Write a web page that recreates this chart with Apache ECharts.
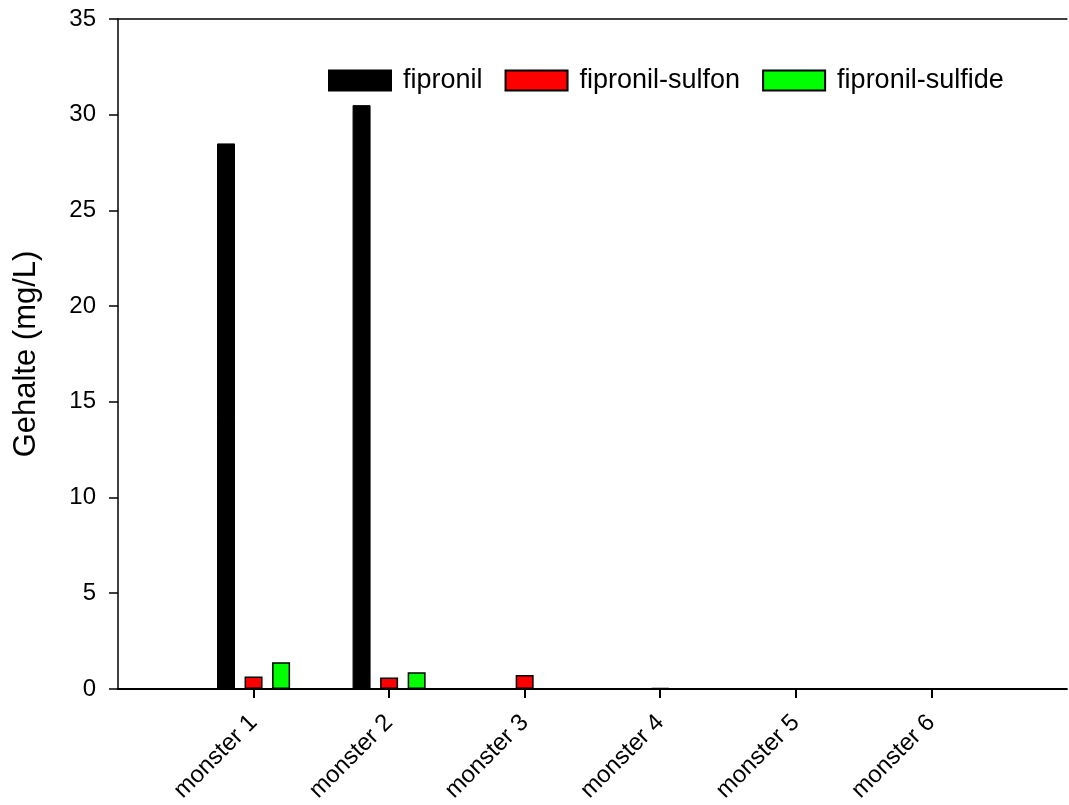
<!DOCTYPE html>
<html>
<head>
<meta charset="utf-8">
<script src="https://cdn.jsdelivr.net/npm/echarts@6/dist/echarts.min.js"></script>
<style>
html,body{margin:0;padding:0;background:#fff;}
#chart{width:1069px;height:805px;}
</style>
</head>
<body>
<div id="chart"></div>
<script>
const categories = ['monster 1', 'monster 2', 'monster 3', 'monster 4', 'monster 5', 'monster 6'];
const fipronil = [28.5, 30.5, null, null, null, null];
const fipronilSulfon = [0.65, 0.6, 0.73, 0.04, null, null];
const fipronilSulfide = [1.4, 0.87, null, null, null, null];
const yTicks = [0, 5, 10, 15, 20, 25, 30, 35];

const FONT = 'Liberation Sans, Arial, sans-serif';
// pad one empty slot on each side so the axis extends past the first/last sample
const xCats = [''].concat(categories, ['']);
const pad = arr => [null].concat(arr, [null]);

const chart = echarts.init(document.getElementById('chart'));
chart.setOption({
  backgroundColor: '#fff',
  animation: false,
  textStyle: { fontFamily: FONT },
  grid: { left: 118, top: 19, bottom: 116, right: -10, containLabel: false },
  legend: {
    left: 323, top: 62,
    itemWidth: 62, itemHeight: 20, itemGap: 22,
    icon: 'rect',
    textStyle: { fontSize: 27, color: '#000', fontFamily: FONT, padding: [0, 0, 0, 7] },
    data: ['fipronil', 'fipronil-sulfon', 'fipronil-sulfide']
  },
  xAxis: [{
    type: 'category', data: xCats, boundaryGap: false, position: 'bottom',
    axisLine: { lineStyle: { color: '#000', width: 2 } },
    axisTick: { show: true, length: 9, inside: false, lineStyle: { color: '#000', width: 2 },
      interval: (i, v) => v !== '' },
    axisLabel: { rotate: 45, fontSize: 24, color: '#000', margin: 30, fontFamily: FONT, interval: 0 },
    splitLine: { show: false }
  }, {
    type: 'category', data: xCats, boundaryGap: false, position: 'top',
    axisLine: { lineStyle: { color: '#000', width: 1.5 } },
    axisTick: { show: false }, axisLabel: { show: false }, splitLine: { show: false }
  }],
  yAxis: {
    type: 'value', min: yTicks[0], max: yTicks[yTicks.length - 1], interval: 5,
    name: 'Gehalte (mg/L)', nameLocation: 'middle', nameGap: 76,
    nameTextStyle: { fontSize: 31, color: '#000', fontFamily: FONT },
    axisLine: { show: true, lineStyle: { color: '#000', width: 1.5 } },
    axisTick: { show: true, length: 9, inside: false, lineStyle: { color: '#000', width: 1.5 } },
    axisLabel: { fontSize: 24, color: '#000', margin: 22, fontFamily: FONT },
    splitLine: { show: false }
  },
  series: [{
    name: 'fipronil', type: 'bar', data: pad(fipronil), barWidth: 18, barGap: '53%',
    itemStyle: { color: '#000', borderColor: '#000', borderWidth: 1 }
  }, {
    name: 'fipronil-sulfon', type: 'bar', data: pad(fipronilSulfon), barWidth: 18, barGap: '53%',
    itemStyle: { color: '#ff0000', borderColor: '#000', borderWidth: 1.5 }
  }, {
    name: 'fipronil-sulfide', type: 'bar', data: pad(fipronilSulfide), barWidth: 18, barGap: '53%',
    itemStyle: { color: '#00ff00', borderColor: '#000', borderWidth: 1.5 }
  }]
});
</script>
</body>
</html>
